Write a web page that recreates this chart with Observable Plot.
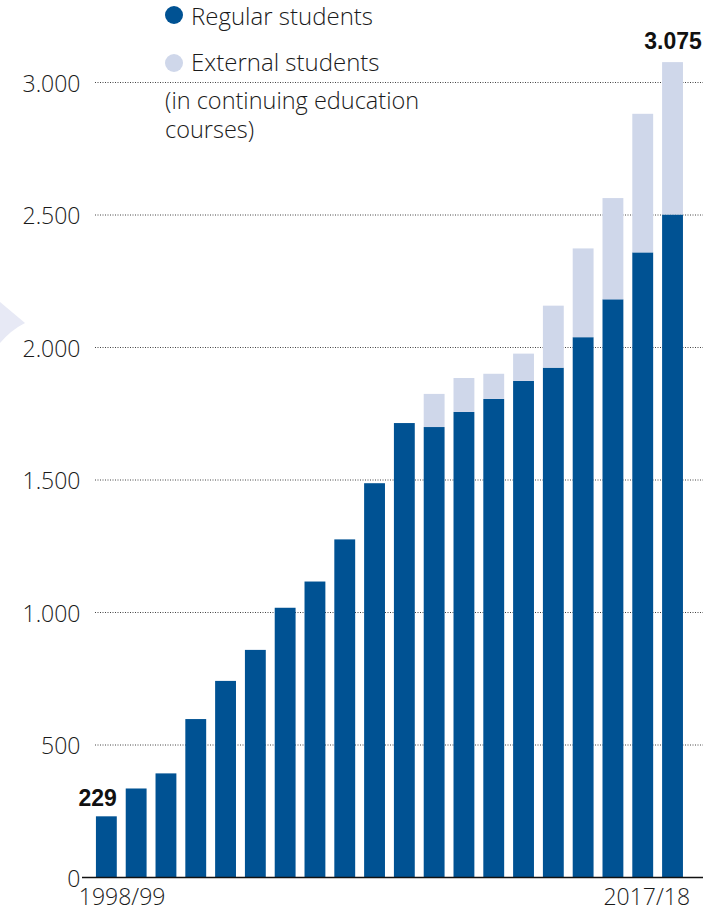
<!DOCTYPE html>
<html>
<head>
<meta charset="utf-8">
<script src="https://cdn.jsdelivr.net/npm/d3@7"></script>
<script src="https://cdn.jsdelivr.net/npm/@observablehq/plot@0.6"></script>
<style>
  html, body { margin: 0; padding: 0; background: #fff; }
  #wrap { position: relative; width: 716px; height: 910px; font-family: "Open Sans", Roboto, "Liberation Sans", sans-serif; font-weight: 300; color: #1a1a1a; }
  .lg { position: absolute; font-size: 24px; line-height: 24px; white-space: nowrap; }
  .dotc { position: absolute; width: 18px; height: 18px; border-radius: 50%; }
  svg.deco { position: absolute; left: 0; top: 0; }
</style>
</head>
<body>
<div id="wrap">
  <svg class="deco" width="40" height="360"><path d="M0,302 L25,323 Q11,330 0,343 Z" fill="#e7e9f5"></path></svg>
  <div id="chart"></div>
  <div class="dotc" style="left:165px; top:6px; background:#005293;"></div>
  <div class="lg" style="left:191px; top:4px;">Regular students</div>
  <div class="dotc" style="left:165px; top:54px; background:#cfd7ea;"></div>
  <div class="lg" style="left:191px; top:50px;">External students</div>
  <div class="lg" style="left:165px; top:88px; font-size:23.5px;">(in continuing education</div>
  <div class="lg" style="left:165px; top:117px; font-size:23.5px;">courses)</div>
</div>
<script>
const years = ["1998/99","1999/00","2000/01","2001/02","2002/03","2003/04","2004/05","2005/06","2006/07","2007/08","2008/09","2009/10","2010/11","2011/12","2012/13","2013/14","2014/15","2015/16","2016/17","2017/18"];
const regular = [229, 334, 391, 596, 740, 857, 1016, 1115, 1274, 1486, 1713, 1698, 1755, 1804, 1872, 1922, 2037, 2180, 2357, 2500];
const external = [0, 0, 0, 0, 0, 0, 0, 0, 0, 0, 0, 125, 128, 95, 103, 234, 335, 382, 523, 575];
const seriesNames = ["Regular students", "External students"];
const seriesColors = ["#005293", "#cfd7ea"];
const yTicks = [0, 500, 1000, 1500, 2000, 2500, 3000];
const firstLabel = {year: "1998/99", total: 229, label: "229"};
const lastLabel = {year: "2017/18", total: 3075, label: "3.075"};

const data = [];
years.forEach((y, i) => {
  data.push({year: y, type: seriesNames[0], value: regular[i]});
  data.push({year: y, type: seriesNames[1], value: external[i]});
});

const fmt = d => d3.format(",")(d).replace(/,/g, ".");
const FONT = "'Open Sans', Roboto, 'Liberation Sans', sans-serif";

const chart = Plot.plot({
  width: 716,
  height: 910,
  marginTop: 82,
  marginBottom: 33,
  marginLeft: 82,
  marginRight: 13,
  style: {fontFamily: FONT, fontSize: "23px", fontWeight: 300, color: "#1a1a1a", background: "transparent"},
  x: {type: "band", domain: years, paddingInner: 0.3, paddingOuter: 0.57, align: 0.41, round: false, axis: null},
  y: {domain: [0, 3000], axis: null},
  color: {domain: seriesNames, range: seriesColors},
  marks: [
    Plot.ruleY(yTicks.filter(d => d > 0), {stroke: "#444", strokeWidth: 1, strokeDasharray: "1,1.5", insetLeft: 13}),
    Plot.barY(data, {x: "year", y: "value", fill: "type"}),
    Plot.ruleY([0], {stroke: "#111", strokeWidth: 1.5}),
    Plot.text(yTicks, {y: d => d, text: d => fmt(d), frameAnchor: "left", textAnchor: "end", dx: -2, dy: 2, fontSize: 23, fill: "#1a1a1a"}),
    Plot.text([years[0]], {x: d => d, text: d => d, frameAnchor: "bottom", textAnchor: "start", dx: -28, dy: 27, fontSize: 23, fill: "#1a1a1a"}),
    Plot.text([years[years.length - 1]], {x: d => d, text: d => d, frameAnchor: "bottom", textAnchor: "end", dx: 17, dy: 27, fontSize: 23, fill: "#1a1a1a"}),
    Plot.text([firstLabel], {x: "year", y: "total", text: "label", textAnchor: "end", dx: 10, dy: -18, fontFamily: "'Liberation Sans', Arial, sans-serif", fontSize: 23, fontWeight: 700, fill: "#111"}),
    Plot.text([lastLabel], {x: "year", y: "total", text: "label", textAnchor: "middle", dx: 0, dy: -21, fontFamily: "'Liberation Sans', Arial, sans-serif", fontSize: 23, fontWeight: 700, fill: "#111"})
  ]
});
document.getElementById("chart").appendChild(chart);
</script>
</body>
</html>
